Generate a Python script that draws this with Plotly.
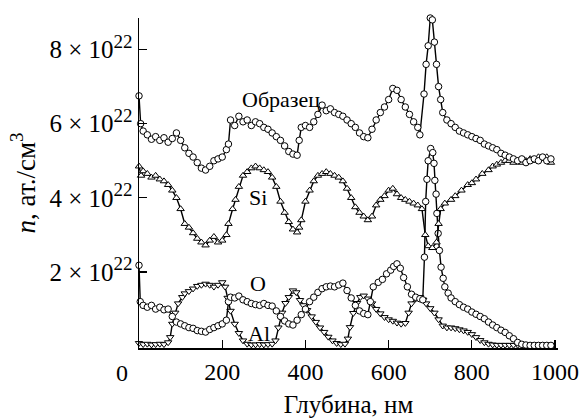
import numpy as np
import plotly.graph_objects as go

# depth (nm) and concentration (units of 1e22 at./cm^3)
sample_x = [0, 4, 10, 20, 30, 40, 50, 60, 70, 80, 90, 100, 110, 120, 130, 140, 150, 160, 170, 180, 190, 200,
            210, 215, 220, 230, 240, 250, 260, 270, 280, 290, 300, 310, 320, 330, 340, 350, 360, 370, 380,
            385, 390, 400, 410, 420, 430, 440, 450, 460, 470, 480, 490, 500, 510, 520, 530, 540, 550, 560,
            570, 580, 590, 600, 610, 620, 630, 640, 650, 660, 670, 675, 685, 690, 695, 700, 705, 710, 715,
            720, 725, 730, 740, 750, 760, 770, 780, 790, 800, 810, 820, 830, 840, 850, 860, 870, 880, 890,
            900, 910, 920, 930, 940, 950, 960, 970, 980, 990]
sample_y = [6.75, 6.0, 5.80, 5.70, 5.58, 5.65, 5.55, 5.62, 5.50, 5.60, 5.75, 5.55, 5.35, 5.20, 5.10, 4.95, 4.80,
            4.75, 4.85, 5.00, 5.05, 5.10, 5.30, 5.45, 6.10, 5.95, 6.20, 6.05, 6.10, 5.95, 6.05, 6.00, 5.90,
            5.85, 5.75, 5.65, 5.55, 5.40, 5.25, 5.18, 5.15, 5.55, 5.90, 5.95, 5.90, 6.05, 6.25, 6.50, 6.35,
            6.40, 6.30, 6.25, 6.20, 6.10, 6.00, 5.90, 5.75, 5.65, 5.62, 5.85, 6.10, 6.30, 6.45, 6.65, 6.95,
            6.90, 6.65, 6.45, 6.25, 6.05, 5.90, 5.70, 6.80, 7.60, 8.10, 8.85, 8.80, 8.20, 7.60, 7.00, 6.65,
            6.30, 6.10, 6.00, 5.90, 5.80, 5.75, 5.70, 5.65, 5.60, 5.55, 5.45, 5.40, 5.35, 5.30, 5.20, 5.15,
            5.10, 5.05, 5.00, 5.05, 4.95, 5.00, 5.05, 5.00, 5.10, 5.00, 5.05]

si_x = [0, 5, 10, 20, 30, 40, 50, 60, 70, 80, 90, 100, 110, 120, 130, 140, 150, 160, 170, 180, 190, 200,
        210, 215, 225, 232, 240, 250, 260, 270, 280, 290, 300, 310, 320, 330, 340, 350, 360, 370, 380,
        385, 390, 400, 410, 420, 430, 440, 450, 460, 470, 480, 490, 500, 510, 520, 530, 540, 550, 560,
        570, 580, 590, 600, 610, 620, 630, 640, 650, 660, 670, 680, 688, 695, 705, 715, 720, 725, 735,
        750, 760, 775, 790, 800, 810, 825, 840, 850, 860, 870, 880, 890, 900, 910, 920, 930, 940, 950,
        960, 970, 980, 990]
si_y = [4.85, 4.60, 4.72, 4.65, 4.55, 4.60, 4.50, 4.45, 4.35, 4.20, 4.00, 3.70, 3.30, 3.20, 3.05, 2.90,
        2.80, 2.72, 2.85, 2.95, 2.80, 2.85, 3.00, 3.30, 3.70, 3.95, 4.30, 4.60, 4.70, 4.80, 4.85, 4.80,
        4.75, 4.70, 4.55, 4.30, 3.90, 3.60, 3.35, 3.15, 3.07, 3.20, 3.40, 3.90, 4.20, 4.45, 4.60, 4.65,
        4.70, 4.65, 4.60, 4.55, 4.45, 4.25, 4.00, 3.75, 3.60, 3.50, 3.40, 3.50, 3.80, 3.95, 4.05, 4.20,
        4.25, 4.10, 4.00, 3.95, 3.90, 3.85, 3.80, 3.70, 3.00, 2.70, 2.65, 2.80, 3.30, 3.70, 3.85, 3.95,
        4.05, 4.20, 4.35, 4.40, 4.50, 4.65, 4.75, 4.85, 4.90, 4.95, 5.00, 5.00, 4.95, 5.00, 4.95, 5.00,
        5.05, 5.00, 5.10, 5.05, 5.10, 4.95]

o_x = [0, 3, 10, 20, 30, 40, 50, 60, 70, 80, 90, 100, 110, 120, 130, 140, 150, 160, 170, 180, 190, 200,
       210, 215, 220, 230, 240, 250, 260, 270, 280, 290, 300, 310, 320, 330, 340, 350, 360, 370, 380,
       390, 400, 410, 420, 430, 440, 450, 460, 470, 480, 490, 500, 510, 520, 530, 540, 550, 556, 563,
       575, 585, 595, 605, 612, 620, 628, 636, 645, 655, 665, 675, 682, 686, 689, 692, 695, 701, 706,
       709, 711, 714, 716, 719, 722, 726, 731, 735, 743, 750, 760, 770, 780, 790, 800, 810, 820, 830,
       840, 850, 860, 870, 880, 890, 900, 910, 920, 930, 940, 950, 960, 970, 980, 990]
o_y = [2.18, 1.20, 1.10, 1.05, 1.10, 1.00, 1.05, 0.98, 1.00, 0.80, 0.65, 0.60, 0.55, 0.50, 0.48, 0.42,
       0.40, 0.38, 0.45, 0.50, 0.55, 0.60, 0.70, 1.20, 1.32, 1.30, 1.35, 1.25, 1.20, 1.15, 1.12, 1.10,
       1.15, 1.10, 1.08, 0.95, 0.80, 0.68, 0.60, 0.57, 0.70, 0.85, 1.00, 1.20, 1.32, 1.45, 1.55, 1.60,
       1.62, 1.60, 1.65, 1.70, 1.50, 1.30, 1.10, 0.95, 0.88, 0.85, 1.20, 1.60, 1.72, 1.80, 1.95, 2.05,
       2.15, 2.22, 2.10, 1.85, 1.60, 1.40, 1.32, 1.28, 1.25, 2.40, 3.90, 4.50, 5.00, 5.33, 5.22, 4.93,
       4.47, 4.10, 3.58, 3.04, 2.58, 2.13, 1.83, 1.60, 1.43, 1.30, 1.20, 1.12, 1.05, 1.00, 0.92, 0.86,
       0.80, 0.74, 0.65, 0.57, 0.50, 0.43, 0.37, 0.28, 0.20, 0.10, 0.05, 0.03, 0.02, 0.02, 0.02, 0.02,
       0.02, 0.02]

al_x = [0, 10, 20, 30, 40, 50, 60, 70, 75, 80, 87, 94, 104, 110, 120, 130, 140, 150, 160, 170, 180, 190,
        200, 207, 213, 220, 230, 240, 250, 260, 270, 280, 290, 300, 310, 320, 328, 335, 344, 352, 360,
        370, 378, 387, 395, 404, 415, 425, 435, 445, 455, 465, 475, 485, 495, 502, 507, 515, 524, 532,
        540, 550, 560, 570, 580, 590, 600, 610, 620, 630, 640, 648, 655, 665, 675, 683, 690, 700, 710,
        720, 730, 740, 750, 760, 770, 780, 790, 800, 810, 820, 830, 840, 850, 860, 870, 880, 890, 900,
        910, 920, 930, 940, 950, 960, 970, 980, 990]
al_y = [0.08, 0.05, 0.06, 0.04, 0.05, 0.06, 0.05, 0.10, 0.24, 0.60, 0.90, 1.15, 1.32, 1.42, 1.48, 1.55,
        1.62, 1.65, 1.68, 1.65, 1.60, 1.65, 1.72, 1.60, 1.30, 0.95, 0.60, 0.35, 0.15, 0.06, 0.04, 0.04,
        0.05, 0.04, 0.05, 0.06, 0.15, 0.50, 0.90, 1.16, 1.32, 1.50, 1.45, 1.24, 1.10, 0.97, 0.80, 0.65,
        0.50, 0.38, 0.25, 0.15, 0.08, 0.05, 0.06, 0.20, 0.51, 0.89, 1.16, 1.32, 1.36, 1.28, 1.15, 1.00,
        0.88, 0.78, 0.72, 0.68, 0.63, 0.60, 0.62, 0.90, 1.15, 1.28, 1.32, 1.25, 1.15, 1.02, 0.90, 0.72,
        0.55, 0.50, 0.50, 0.48, 0.45, 0.42, 0.38, 0.32, 0.24, 0.16, 0.10, 0.06, 0.04, 0.03, 0.03, 0.03,
        0.03, 0.03, 0.03, 0.03, 0.03, 0.03, 0.03, 0.03, 0.03, 0.03, 0.03]

x_tick_vals = [200, 400, 600, 800, 1000]
x_tick_text = ["200", "400", "600", "800", "1000"]
y_tick_vals = [2e22, 4e22, 6e22, 8e22]
y_tick_text = ['%d × 10<sup><span style="font-size:19px">22</span></sup>' % v for v in (2, 4, 6, 8)]

labels = ["Образец", "Si", "O", "Al"]
label_x = [342, 286, 285, 289]
label_y = [6.66e22, 4.01e22, 1.69e22, 0.34e22]

SCALE = 1e22
FONT = "Liberation Serif, Times New Roman, serif"

fig = go.Figure()

def add(xs, ys, symbol, name):
    fig.add_trace(go.Scatter(
        x=xs, y=np.array(ys) * SCALE, mode="lines+markers", name=name,
        line=dict(color="black", width=1.4),
        marker=dict(symbol=symbol, size=6.5, color="white", line=dict(color="black", width=1)),
        cliponaxis=False, hoverinfo="skip",
    ))

add(al_x, al_y, "triangle-down", "Al")
add(o_x, o_y, "circle", "O")
add(si_x, si_y, "triangle-up", "Si")
add(sample_x, sample_y, "circle", "Образец")

for t, lx, ly in zip(labels, label_x, label_y):
    fig.add_annotation(x=lx, y=ly, xref="x", yref="y", text=t, showarrow=False,
                       font=dict(family=FONT, size=22, color="black"))

fig.add_annotation(x=0, y=0, xref="paper", yref="paper", text="0", showarrow=False,
                   xanchor="right", yanchor="middle", xshift=-9, yshift=-25,
                   font=dict(family=FONT, size=24, color="black"))

fig.update_layout(
    width=582, height=418,
    margin=dict(l=139, r=24, t=18, b=70, autoexpand=False),
    paper_bgcolor="white", plot_bgcolor="white",
    showlegend=False,
    font=dict(family=FONT, size=24, color="black"),
)
fig.update_xaxes(
    range=[0, 1007], showgrid=False, zeroline=False, automargin=False,
    showline=True, linecolor="black", linewidth=1.5,
    ticks="inside", ticklen=8, tickwidth=1.2, tickcolor="black",
    tickvals=x_tick_vals, ticktext=x_tick_text, ticklabelstandoff=2,
    title=dict(text="Глубина, нм", font=dict(family=FONT, size=25), standoff=13),
)
fig.update_yaxes(
    range=[-0.05e22, 8.85e22], showgrid=False, zeroline=False, automargin=False,
    showline=True, linecolor="black", linewidth=1.5,
    ticks="inside", ticklen=8, tickwidth=1.2, tickcolor="black",
    tickvals=y_tick_vals, ticktext=y_tick_text, tickfont=dict(family=FONT, size=25),
    title=dict(text="<i>n</i>, ат./см<sup>3</sup>", font=dict(family=FONT, size=27), standoff=6),
)

fig.write_html("out.html", config={"displayModeBar": False, "staticPlot": True},
               post_script="document.body.style.margin='0';document.body.style.padding='0';")
